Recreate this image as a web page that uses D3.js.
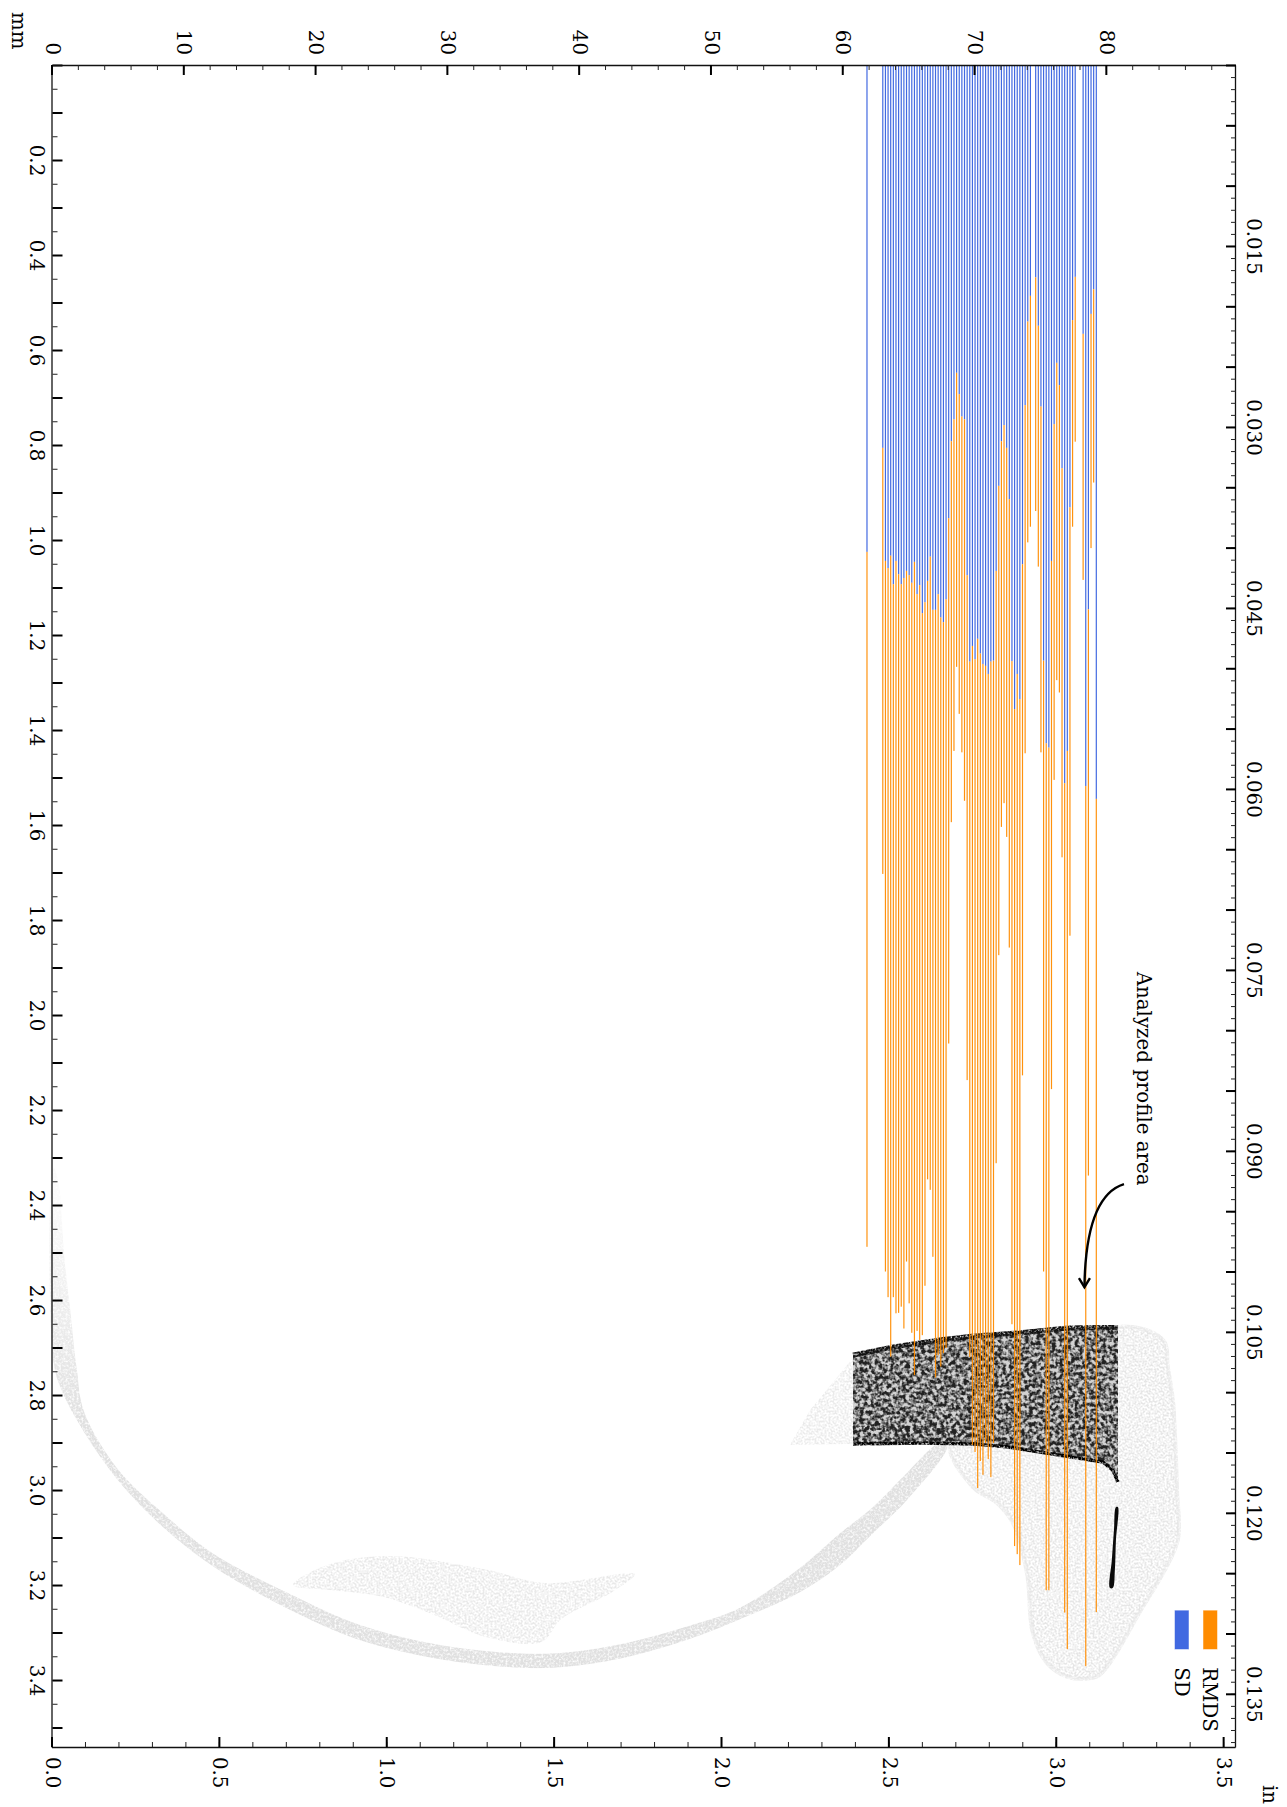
<!DOCTYPE html>
<html>
<head>
<meta charset="utf-8">
<script src="https://cdn.jsdelivr.net/npm/d3@7"></script>
<style>
  html, body { margin: 0; background: #fff; }
  svg { display: block; }
  text { font-family: "DejaVu Serif", serif; font-size: 19.8px; fill: #000; }
</style>
</head>
<body>
<svg width="1287" height="1807"></svg>
<script>
// profile positions along the sample, mm (61.8 stands alone, some slots were not measured)
const position = [61.8, 63.0, 63.2, 63.4, 63.6, 63.8, 64.0, 64.2, 64.4, 64.6, 64.8, 65.0, 65.2, 65.4, 65.6, 65.8, 66.0, 66.2, 66.4, 66.6, 66.8, 67.0, 67.2, 67.4, 67.6, 67.8, 68.0, 68.2, 68.4, 68.6, 68.8, 69.0, 69.2, 69.4, 69.6, 69.8, 70.0, 70.2, 70.4, 70.6, 70.8, 71.0, 71.2, 71.4, 71.6, 71.8, 72.0, 72.2, 72.4, 72.6, 72.8, 73.0, 73.2, 73.4, 73.6, 73.8, 74.0, 74.2, 74.6, 74.8, 75.0, 75.2, 75.4, 75.6, 75.8, 76.0, 76.2, 76.4, 76.6, 76.8, 77.0, 77.2, 77.4, 77.6, 78.2, 78.4, 78.6, 78.8, 79.0, 79.2];

// widths of the two stacked bars, mm
const sd = [1.025, 0.806, 1.044, 1.059, 1.033, 1.093, 1.044, 1.072, 1.093, 1.080, 1.065, 1.074, 1.090, 1.046, 1.114, 1.095, 1.154, 1.131, 1.086, 1.035, 1.147, 1.147, 1.114, 1.163, 1.173, 1.125, 0.954, 0.792, 0.746, 0.648, 0.693, 0.740, 0.746, 1.074, 1.256, 1.223, 1.251, 1.208, 1.239, 1.261, 1.265, 1.282, 1.256, 1.254, 1.065, 0.886, 0.792, 0.758, 0.806, 0.914, 1.255, 1.356, 1.282, 1.335, 1.051, 0.716, 0.540, 0.486, 0.447, 0.549, 0.719, 1.254, 1.428, 1.437, 1.044, 0.756, 0.627, 0.674, 0.849, 1.512, 1.444, 0.931, 0.537, 0.446, 0.566, 1.518, 1.146, 0.524, 0.472, 1.545];
const rmds = [1.463, 0.897, 1.496, 1.535, 1.686, 1.501, 1.584, 1.555, 1.521, 1.580, 1.454, 1.533, 1.579, 1.712, 1.551, 1.589, 1.520, 1.439, 1.260, 1.333, 1.362, 1.616, 1.602, 1.577, 1.539, 1.576, 1.106, 0.802, 0.698, 0.619, 0.673, 0.707, 0.803, 1.063, 1.464, 1.682, 1.669, 1.788, 1.700, 1.707, 1.636, 1.653, 1.717, 1.647, 1.247, 0.988, 0.812, 0.796, 0.819, 0.944, 1.396, 1.762, 1.853, 1.823, 1.076, 0.733, 0.465, 0.486, 0.492, 0.507, 0.728, 1.286, 1.783, 1.774, 1.112, 0.749, 0.668, 0.647, 0.819, 1.746, 1.891, 0.902, 0.435, 0.347, 0.518, 1.853, 1.192, 0.493, 0.407, 1.712];

// the point cloud is too dense to read point by point, so it is kept as outlines [depth mm, position mm]
const bandOutline = [[2.716, 60.74], [2.699, 63.77], [2.684, 67.33], [2.676, 69.84], [2.669, 73.41], [2.659, 76.97], [2.657, 80.84], [2.983, 80.84], [2.958, 80.46], [2.941, 79.70], [2.931, 77.43], [2.920, 74.92], [2.909, 72.41], [2.903, 69.84], [2.901, 66.05], [2.903, 60.74]];
const bandTop = [[2.716, 60.74], [2.699, 63.77], [2.684, 67.33], [2.676, 69.84], [2.669, 73.41], [2.659, 76.97], [2.657, 80.84]];
const bandBottom = [[2.903, 60.74], [2.901, 66.05], [2.903, 69.84], [2.909, 72.41], [2.920, 74.92], [2.931, 77.43], [2.941, 79.70], [2.958, 80.46], [2.983, 80.84]];
const bandStripe = [[2.872, 60.74], [2.868, 64.0], [2.874, 67.0], [2.884, 69.84]];
const sliverOutline = [[3.036, 80.84], [3.105, 80.69], [3.168, 80.61], [3.206, 80.46], [3.206, 80.23], [3.147, 80.38], [3.084, 80.54], [3.036, 80.69]];
const padOutline = [[2.657, 80.84], [2.684, 84.26], [2.741, 84.63], [2.811, 85.01], [2.994, 85.32], [3.105, 85.39], [3.175, 84.26], [3.246, 82.73], [3.389, 79.47], [3.397, 78.49], [3.393, 76.97], [3.364, 75.45], [3.301, 74.39], [3.175, 73.93], [3.069, 72.87], [3.027, 71.66], [2.994, 69.84], [2.901, 68.09], [2.811, 71.9]];
const wingOutline = [[2.722, 60.74], [2.832, 57.47], [2.905, 55.95], [2.903, 60.74]];
const arcOutline = [[2.322, 0.0], [2.731, 0.08], [2.787, 0.64], [2.878, 2.39], [2.977, 4.89], [3.078, 8.38], [3.162, 12.25], [3.248, 17.72], [3.314, 23.1], [3.354, 28.94], [3.373, 34.71], [3.373, 38.58], [3.354, 43.21], [3.314, 48.29], [3.272, 52.16], [3.215, 56.71], [3.158, 59.75], [3.091, 62.25], [3.021, 64.83], [2.909, 67.86], [2.901, 67.33], [2.964, 64.83], [3.036, 62.25], [3.091, 59.75], [3.164, 56.71], [3.248, 52.16], [3.286, 48.29], [3.324, 43.21], [3.343, 38.58], [3.343, 34.71], [3.324, 28.94], [3.282, 23.1], [3.215, 17.72], [3.135, 12.25], [3.049, 8.38], [2.954, 4.89], [2.835, 2.39], [2.749, 1.86], [2.636, 1.40], [2.501, 0.87], [2.36, 0.49], [2.322, 0.11]];
const patchOutline = [[3.2, 18.25], [3.158, 20.83], [3.139, 25.46], [3.167, 32.82], [3.196, 37.45], [3.177, 44.2], [3.215, 42.45], [3.272, 38.58], [3.32, 37.1], [3.309, 32.82], [3.263, 28.94], [3.225, 25.07], [3.211, 21.2]];

// tick labels
const depthLabels = [0.2, 0.4, 0.6, 0.8, 1.0, 1.2, 1.4, 1.6, 1.8, 2.0, 2.2, 2.4, 2.6, 2.8, 3.0, 3.2, 3.4];
const posLabels = [0, 10, 20, 30, 40, 50, 60, 70, 80];
const depthInLabels = [0.015, 0.030, 0.045, 0.060, 0.075, 0.090, 0.105, 0.120, 0.135];
const posInLabels = [0.0, 0.5, 1.0, 1.5, 2.0, 2.5, 3.0, 3.5];

const blue = "#4169e1", orange = "#ff8c00";

// the figure is a landscape plot turned a quarter turn clockwise
const W = 1682, H = 1183.5;
const svg = d3.select("svg");
const defs = svg.append("defs");
const g = svg.append("g").attr("transform", "translate(1236,65) rotate(90)");

const x = d3.scaleLinear().domain([0, 3.541]).range([0, W]);
const y = d3.scaleLinear().domain([0, 89.8]).range([H, 0]);
const xIn = d3.scaleLinear().domain([0, 3.541 / 25.4]).range([0, W]);
const yIn = d3.scaleLinear().domain([0, 89.8 / 25.4]).range([H, 0]);

// speckle for the cloud outlines
function grain(id, freq, gain, offset, seed) {
  const f = defs.append("filter").attr("id", id)
    .attr("x", "-5%").attr("y", "-5%").attr("width", "110%").attr("height", "110%")
    .attr("color-interpolation-filters", "sRGB");
  f.append("feTurbulence").attr("type", "fractalNoise").attr("baseFrequency", freq)
    .attr("numOctaves", 2).attr("seed", seed).attr("result", "n");
  f.append("feColorMatrix").attr("in", "n").attr("type", "matrix")
    .attr("values", `0 0 0 0 0  0 0 0 0 0  0 0 0 0 0  ${gain} 0 0 0 ${offset}`).attr("result", "a");
  f.append("feComposite").attr("in", "SourceGraphic").attr("in2", "a").attr("operator", "in");
}
grain("coarse", 0.26, 3.4, -1.2, 4);
grain("fine", 0.5, 3.4, -1.25, 9);
grain("soft", 0.45, 2.4, -0.4, 2);

// arc fades out towards the surface
const arcFade = defs.append("linearGradient").attr("id", "arcFade").attr("gradientUnits", "userSpaceOnUse")
  .attr("x1", x(2.4)).attr("x2", x(2.85)).attr("y1", 0).attr("y2", 0);
arcFade.append("stop").attr("offset", 0).attr("stop-color", "#fafafa");
arcFade.append("stop").attr("offset", 1).attr("stop-color", "#e0e0e0");

const outline = d3.line().x(d => x(d[0])).y(d => y(d[1])).curve(d3.curveLinearClosed);
const smooth = d3.line().x(d => x(d[0])).y(d => y(d[1])).curve(d3.curveCatmullRomClosed.alpha(0.5));
const open = d3.line().x(d => x(d[0])).y(d => y(d[1])).curve(d3.curveLinear);

// light cloud
g.append("path").attr("d", smooth(patchOutline)).attr("fill", "#e2e2e2").attr("filter", "url(#fine)").attr("opacity", 0.75);
g.append("path").attr("d", smooth(arcOutline)).attr("fill", "url(#arcFade)").attr("filter", "url(#soft)");
g.append("path").attr("d", outline(wingOutline)).attr("fill", "#e2e2e2").attr("filter", "url(#fine)").attr("opacity", 0.7);
g.append("path").attr("d", smooth(padOutline)).attr("fill", "#e2e2e2").attr("filter", "url(#fine)").attr("opacity", 0.85);
g.append("path").attr("d", smooth(padOutline)).attr("fill", "none").attr("stroke", "#e6e6e6").attr("stroke-width", 4).attr("filter", "url(#soft)").attr("opacity", 0.7);

// analysed area
g.append("path").attr("d", outline(bandOutline)).attr("fill", "#d2d2d2");
g.append("path").attr("d", outline(bandOutline)).attr("fill", "#222").attr("filter", "url(#coarse)");
g.append("path").attr("d", open(bandTop)).attr("fill", "none").attr("stroke", "#111").attr("stroke-width", 5).attr("filter", "url(#soft)");
g.append("path").attr("d", open(bandBottom)).attr("fill", "none").attr("stroke", "#000").attr("stroke-width", 3.5).attr("filter", "url(#soft)");
g.append("path").attr("d", open(bandStripe)).attr("fill", "none").attr("stroke", "#222").attr("stroke-width", 7).attr("filter", "url(#coarse)");
g.append("path").attr("d", smooth(sliverOutline)).attr("fill", "#0a0a0a");

// stacked bars
const rows = position.map((p, i) => ({ p: p, sd: sd[i], rmds: rmds[i] }));
const barW = Math.abs(y(0.09) - y(0));
g.append("g").selectAll("rect").data(rows).join("rect")
  .attr("x", x(0))
  .attr("y", d => y(d.p) - barW / 2)
  .attr("width", d => x(d.sd) - x(0))
  .attr("height", barW)
  .attr("fill", blue);
g.append("g").selectAll("rect").data(rows).join("rect")
  .attr("x", d => x(d.sd))
  .attr("y", d => y(d.p) - barW / 2)
  .attr("width", d => x(d.sd + d.rmds) - x(d.sd))
  .attr("height", barW)
  .attr("fill", orange)
  .attr("fill-opacity", 0.95);

// axes: minor first, then major with labels
function addAxis(axis, scale, minor, major, labels, fmt, pad, at) {
  const labelled = new Set(labels.map(v => v.toFixed(4)));
  g.append("g").attr("transform", at)
    .call(axis(scale).tickValues(minor).tickSize(-5).tickSizeOuter(0).tickFormat(""))
    .call(a => a.selectAll(".tick line").attr("stroke-width", 1).attr("stroke", "#222"))
    .call(a => a.select(".domain").attr("stroke", "#111").attr("stroke-width", 1.3));
  g.append("g").attr("transform", at)
    .call(axis(scale).tickValues(major).tickSize(-10).tickSizeOuter(0).tickPadding(pad)
      .tickFormat(v => labelled.has(v.toFixed(4)) ? fmt(v) : ""))
    .call(a => a.selectAll(".tick line").attr("stroke-width", 2).attr("stroke", "#000"))
    .call(a => a.select(".domain").remove())
    .call(a => a.selectAll("text").style("font-family", '"DejaVu Serif", serif').style("font-size", "19.8px").attr("fill", "#000"))
    .attr("font-family", null).attr("font-size", null);
}
addAxis(d3.axisBottom, x, d3.range(0, 71).map(i => i * 0.05), d3.range(0, 36).map(i => i * 0.1), depthLabels, d3.format(".1f"), 8, `translate(0,${H})`);
addAxis(d3.axisLeft, y, d3.range(0, 45).map(i => i * 2), d3.range(0, 9).map(i => i * 10), posLabels, d3.format("d"), 10, "translate(0,0)");
addAxis(d3.axisTop, xIn, d3.range(0, 140).map(i => i * 0.001), d3.range(0, 28).map(i => i * 0.005), depthInLabels, d3.format(".3f"), 11, "translate(0,0)");
addAxis(d3.axisRight, yIn, d3.range(0, 36).map(i => i * 0.1), d3.range(0, 8).map(i => i * 0.5), posInLabels, d3.format(".1f"), 10, `translate(${W},0)`);

// unit labels
g.append("text").attr("x", -53).attr("y", H + 41).text("mm");
g.append("text").attr("x", W + 38).attr("y", -27).text("in");

// annotation with curved arrow
const arrowFrom = [2.356, 81.3], arrowBend = [2.381, 78.4], arrowTo = [2.573, 78.3];
const arrow = d3.path();
arrow.moveTo(x(arrowFrom[0]), y(arrowFrom[1]));
arrow.quadraticCurveTo(x(arrowBend[0]), y(arrowBend[1]), x(arrowTo[0]), y(arrowTo[1]));
g.append("path").attr("d", arrow.toString()).attr("fill", "none").attr("stroke", "#000").attr("stroke-width", 2.4);
g.append("path")
  .attr("d", `M${x(arrowTo[0]) - 9},${y(arrowTo[1]) - 5.5}L${x(arrowTo[0])},${y(arrowTo[1])}L${x(arrowTo[0]) - 9},${y(arrowTo[1]) + 5.5}`)
  .attr("fill", "none").attr("stroke", "#000").attr("stroke-width", 2.4);
g.append("text").attr("x", x(1.909)).attr("y", y(82.3)).text("Analyzed profile area");

// legend
const legendNames = ["RMDS", "SD"], legendColors = [orange, blue];
const legend = g.append("g").selectAll("g").data(legendNames).join("g")
  .attr("transform", (d, i) => `translate(1545.7,${19 + i * 28.5})`);
legend.append("rect").attr("width", 38.3).attr("height", 13.5)
  .attr("fill", (d, i) => legendColors[i])
  .attr("stroke", (d, i) => legendColors[i]).attr("stroke-opacity", 0.5).attr("stroke-width", 1);
legend.append("text").attr("x", 56.5).attr("y", 14).text(d => d);
</script>
</body>
</html>
